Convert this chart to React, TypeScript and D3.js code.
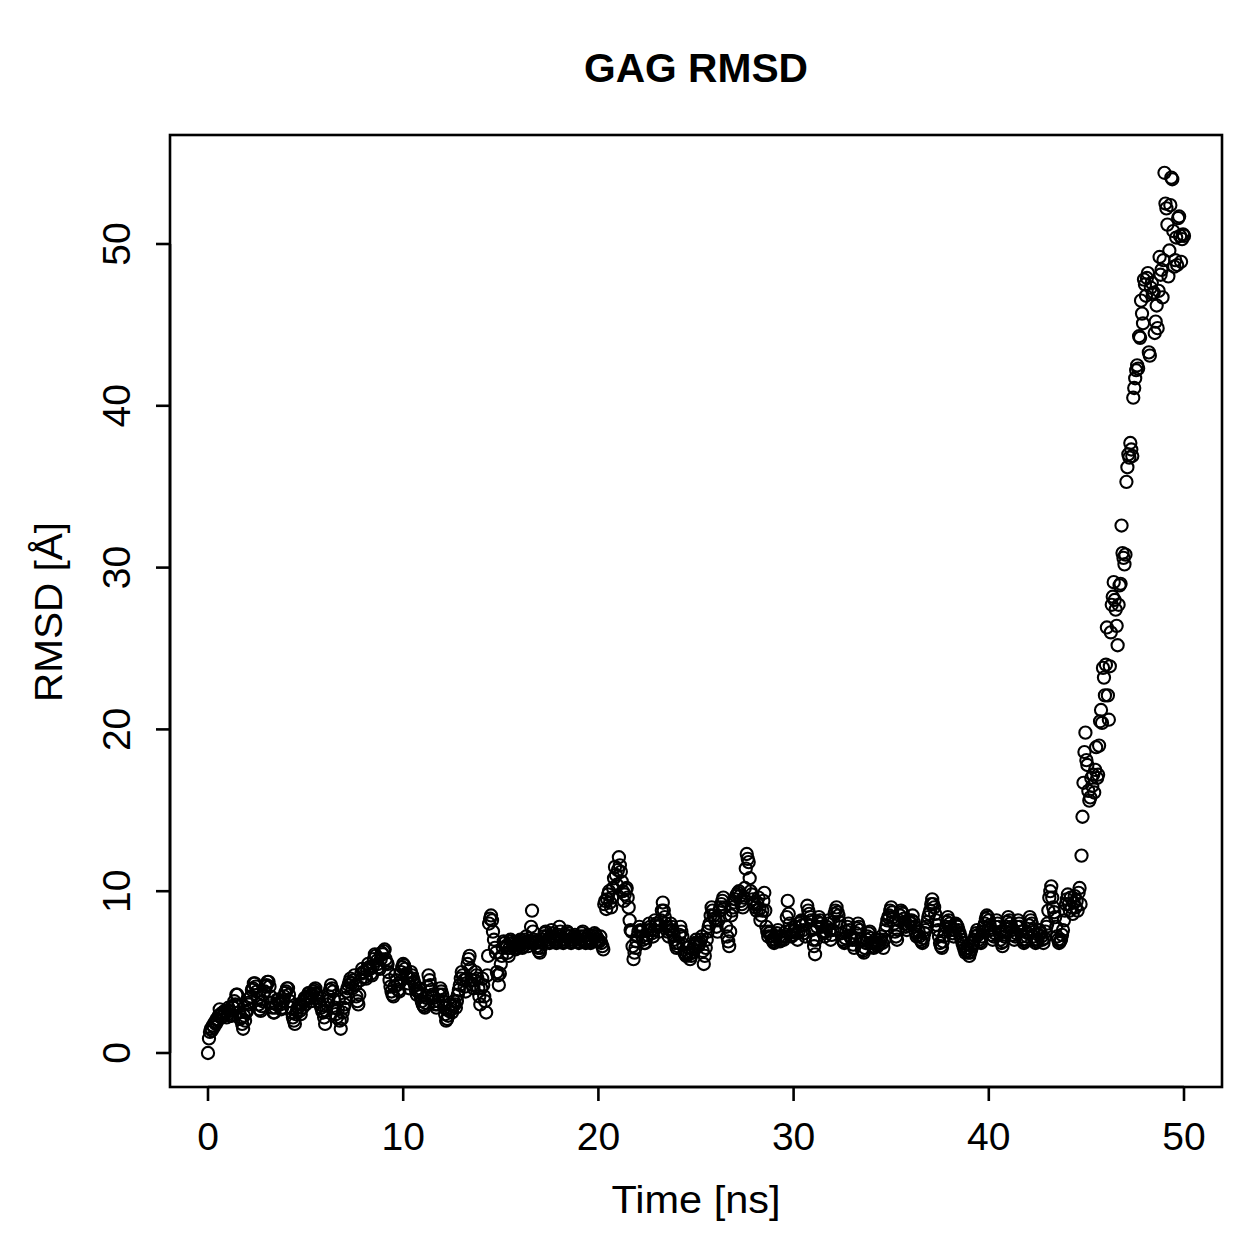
import React from 'react';
import * as d3 from 'd3';

const title = 'GAG RMSD';
const xLabel = 'Time [ns]';
const yLabel = 'RMSD [Å]';
const xTicks = [0, 10, 20, 30, 40, 50];
const yTicks = [0, 10, 20, 30, 40, 50];
const timeStep = 0.05; // ns between frames

const rmsd00to10 = [
  0, 0.9, 1.3, 1.5, 1.4, 1.7, 1.6, 1.9, 1.8, 2.1, 2.0, 2.3, 2.7, 2.4, 2.2, 2.5, 2.3, 2.6, 2.5, 2.2,
  2.4, 2.8, 2.6, 2.3, 2.3, 2.9, 2.8, 3.2, 3.0, 3.6, 3.6, 2.9, 2.5, 2.1, 2.2, 1.8, 1.5, 2.3, 2.0, 2.5,
  2.6, 3.1, 3.0, 3.4, 3.5, 3.9, 4.0, 4.3, 4.3, 4.1, 3.8, 3.4, 3.0, 2.7, 2.6, 2.9, 3.2, 3.6, 3.8, 4.1,
  4.2, 4.4, 4.4, 4.1, 3.5, 3.1, 2.8, 2.5, 2.5, 2.8, 3.0, 3.3, 3.3, 3.1, 3.0, 2.7, 2.8, 3.2, 3.5, 3.7,
  3.8, 4.0, 4.0, 3.6, 3.2, 2.8, 2.5, 2.2, 2.0, 1.8, 2.4, 2.6, 2.8, 3.0, 2.6, 2.4, 3.0, 2.8, 3.2, 3.4,
  3.0, 3.3, 3.5, 3.7, 3.7, 3.4, 3.2, 3.6, 3.8, 3.9, 4.0, 3.7, 3.6, 3.4, 3.2, 3.0, 2.8, 2.6, 2.5, 2.2,
  1.8, 2.6, 3.0, 3.2, 3.5, 3.9, 4.2, 4.0, 3.8, 3.3, 2.8, 2.4, 2.2, 2.7, 3.3, 2.0, 1.5, 2.1, 2.5, 2.8,
  3.0, 3.4, 3.8, 4.0, 4.2, 4.4, 4.6, 4.3, 4.0, 4.5, 4.8, 4.2, 3.5, 3.2, 3.0, 3.6, 4.5, 4.9, 5.2, 5.0,
  5.0, 4.7, 4.6, 5.1, 5.5, 5.3, 5.2, 4.9, 4.8, 5.4, 5.8, 6.1, 6.0, 5.7, 5.5, 5.3, 5.2, 5.8, 6.2, 6.1,
  6.3, 6.4, 5.8, 5.6, 5.5, 5.0, 4.5, 4.1, 3.8, 3.6, 3.5, 4.1, 4.8, 4.5, 4.2, 3.9, 3.8, 4.4, 5.0, 5.3,
];
const rmsd10to20 = [
  5.5, 5.4, 5.2, 4.9, 4.7, 4.3, 4.0, 4.6, 5.0, 4.8, 4.6, 4.4, 4.2, 3.9, 3.6, 3.8, 4.0, 3.7, 3.5, 3.2,
  3.0, 2.9, 2.8, 3.1, 3.4, 4.1, 4.8, 4.5, 4.2, 3.9, 3.6, 3.4, 3.2, 3.0, 2.8, 3.0, 3.2, 3.6, 4.0, 3.8,
  3.6, 3.2, 2.8, 2.4, 2.0, 2.1, 2.3, 2.6, 3.0, 2.7, 2.5, 2.9, 3.2, 3.0, 2.8, 3.2, 3.6, 3.9, 4.2, 4.6,
  5.0, 4.8, 4.5, 4.1, 3.8, 4.6, 5.5, 5.8, 6.0, 5.2, 4.5, 4.2, 4.0, 4.5, 5.0, 4.8, 4.6, 4.0, 3.5, 3.0,
  4.0, 4.6, 4.2, 3.5, 3.2, 2.5, 4.8, 6.0, 8.0, 8.3, 8.5, 8.2, 7.5, 7.0, 6.5, 6.2, 5.0, 4.8, 4.2, 4.9,
  5.5, 6.0, 6.5, 6.9, 6.8, 6.6, 6.5, 6.2, 6.0, 6.5, 7.0, 6.9, 6.8, 6.7, 6.6, 6.4, 6.5, 6.7, 6.8, 6.9,
  7.0, 6.7, 6.5, 6.6, 6.8, 7.0, 7.2, 6.9, 6.6, 6.8, 6.9, 7.8, 8.8, 7.5, 7.0, 6.9, 6.8, 6.6, 6.5, 6.3,
  6.2, 6.5, 6.8, 7.0, 7.2, 7.4, 7.5, 7.2, 7.0, 6.9, 6.8, 7.2, 7.6, 7.4, 7.2, 7.0, 6.9, 6.8, 7.0, 7.3,
  7.8, 7.5, 7.2, 7.0, 6.8, 6.9, 7.0, 7.3, 7.5, 7.4, 7.2, 7.0, 6.8, 6.9, 7.0, 7.2, 7.3, 7.1, 7.1, 6.9,
  6.8, 7.0, 7.2, 7.4, 7.5, 7.2, 7.0, 6.8, 6.9, 7.1, 7.3, 7.0, 6.8, 6.9, 7.0, 7.2, 7.4, 7.3, 7.2, 6.9,
];
const rmsd20to30 = [
  7.0, 6.9, 7.2, 6.8, 6.6, 6.4, 9.2, 9.4, 8.9, 9.5, 9.8, 10.0, 9.3, 9.0, 9.6, 10.2, 10.8, 11.5, 11.0, 10.4,
  11.3, 12.1, 11.6, 11.2, 10.6, 10.0, 9.4, 9.8, 10.1, 10.2, 9.6, 9.0, 8.2, 7.6, 7.5, 6.6, 5.8, 6.2, 6.5, 6.9,
  7.2, 7.5, 7.8, 7.6, 7.5, 7.2, 7.0, 6.8, 6.8, 7.1, 7.3, 7.6, 8.0, 7.8, 7.6, 7.4, 7.2, 7.6, 8.2, 8.0,
  8.0, 7.8, 7.5, 7.9, 8.2, 8.8, 9.3, 8.8, 8.4, 8.0, 7.8, 7.5, 7.2, 7.6, 8.0, 7.8, 7.6, 7.3, 7.0, 6.8,
  6.5, 6.6, 6.8, 7.3, 7.8, 7.5, 7.2, 6.7, 6.2, 6.1, 6.0, 6.2, 6.5, 6.1, 5.8, 6.0, 6.2, 6.4, 6.6, 6.8,
  7.0, 6.8, 6.6, 6.7, 6.8, 7.0, 7.2, 6.3, 5.5, 6.0, 6.5, 7.0, 7.5, 7.8, 8.0, 8.5, 9.0, 8.8, 8.5, 8.3,
  8.2, 7.8, 7.5, 8.2, 8.8, 9.0, 9.2, 9.4, 9.6, 9.0, 8.5, 7.8, 7.2, 6.9, 6.6, 7.5, 8.5, 8.8, 9.0, 9.3,
  9.5, 9.7, 9.8, 9.9, 10.0, 9.7, 9.4, 9.2, 9.0, 9.6, 10.2, 11.4, 12.3, 12.0, 11.8, 10.8, 10.0, 9.8, 9.5, 9.3,
  9.2, 9.0, 8.8, 9.2, 9.6, 8.9, 8.2, 8.5, 8.8, 9.4, 9.9, 8.8, 7.8, 7.5, 7.2, 7.4, 7.5, 7.2, 7.0, 6.9,
  6.8, 7.0, 7.2, 7.4, 7.6, 7.2, 6.9, 7.0, 7.2, 7.1, 7.0, 7.2, 7.5, 8.4, 9.4, 8.6, 8.0, 7.6, 7.2, 7.3,
];
const rmsd30to40 = [
  7.5, 7.6, 7.8, 7.4, 7.0, 7.5, 8.0, 8.1, 8.2, 7.9, 7.6, 7.4, 7.2, 8.0, 9.1, 8.8, 8.6, 8.4, 8.2, 7.6,
  7.0, 6.6, 6.1, 7.0, 7.8, 8.1, 8.4, 8.2, 8.0, 7.8, 7.5, 7.4, 7.2, 7.5, 7.8, 8.0, 8.2, 7.6, 7.0, 7.3,
  7.6, 8.1, 8.6, 8.8, 9.0, 8.7, 8.5, 8.1, 7.8, 7.4, 7.0, 6.9, 6.8, 7.1, 7.5, 7.8, 8.0, 7.6, 7.2, 7.1,
  7.0, 6.7, 6.5, 7.0, 7.4, 7.7, 8.0, 7.8, 7.6, 7.0, 6.4, 6.3, 6.2, 6.5, 6.8, 7.0, 7.2, 7.4, 7.5, 7.1,
  6.8, 6.6, 6.5, 6.8, 7.0, 6.8, 6.6, 6.7, 6.8, 7.0, 7.2, 6.8, 6.5, 7.0, 7.6, 7.9, 8.2, 8.4, 8.5, 8.8,
  9.0, 8.7, 8.4, 8.0, 7.5, 7.2, 7.0, 7.6, 8.2, 8.5, 8.8, 8.7, 8.6, 8.3, 8.0, 7.8, 7.6, 7.9, 8.2, 8.1,
  8.0, 8.2, 8.5, 8.1, 7.8, 7.5, 7.2, 7.3, 7.5, 7.2, 7.0, 6.9, 6.8, 7.1, 7.4, 7.6, 7.8, 8.1, 8.4, 8.6,
  8.8, 9.2, 9.5, 9.2, 9.0, 8.6, 8.2, 7.9, 7.6, 7.2, 6.8, 6.6, 6.5, 6.9, 7.2, 7.5, 7.8, 8.1, 8.4, 8.2,
  8.0, 7.8, 7.6, 7.4, 7.2, 7.6, 8.0, 7.9, 7.8, 7.6, 7.4, 7.2, 7.0, 6.8, 6.6, 6.4, 6.2, 6.3, 6.5, 6.2,
  6.0, 6.2, 6.4, 6.6, 6.8, 7.0, 7.2, 7.4, 7.6, 7.3, 7.0, 6.9, 6.8, 7.2, 7.5, 7.8, 8.0, 8.3, 8.5, 8.4,
];
const rmsd40to50 = [
  8.2, 7.9, 7.6, 7.3, 7.0, 7.2, 7.4, 7.8, 8.2, 8.0, 7.8, 7.4, 7.0, 6.8, 6.6, 6.9, 7.2, 7.5, 7.8, 8.1,
  8.4, 8.2, 8.0, 7.8, 7.6, 7.3, 7.0, 7.2, 7.4, 7.8, 8.2, 8.0, 7.8, 7.5, 7.2, 7.0, 6.8, 6.9, 7.0, 7.2,
  7.4, 7.9, 8.4, 8.2, 8.0, 7.6, 7.2, 7.0, 6.8, 6.9, 7.0, 7.3, 7.6, 7.4, 7.2, 7.0, 6.8, 7.1, 7.5, 7.8,
  8.0, 8.8, 9.6, 10.0, 10.3, 9.6, 9.0, 8.7, 8.4, 7.8, 7.2, 7.0, 6.8, 6.9, 7.0, 7.3, 7.6, 8.2, 8.8, 9.2,
  9.5, 9.8, 9.2, 8.8, 9.6, 9.0, 8.6, 9.3, 9.7, 9.0, 9.4, 8.8, 9.9, 10.2, 9.2, 12.2, 14.6, 16.7, 18.6, 19.8,
  18.1, 17.8, 16.2, 15.6, 15.8, 17.0, 16.5, 17.2, 16.1, 17.5, 18.9, 17.0, 17.2, 19.0, 20.5, 21.2, 20.4, 23.8, 23.2, 22.1,
  24.0, 26.3, 22.1, 20.6, 23.9, 26.0, 27.7, 28.2, 29.1, 28.0, 27.4, 26.4, 25.2, 27.7, 28.9, 29.0, 32.6, 30.9, 30.6, 30.2,
  30.8, 35.3, 36.2, 37.0, 36.8, 37.7, 37.3, 36.9, 40.5, 41.1, 41.7, 42.2, 42.5, 42.3, 44.3, 44.2, 46.5, 45.7, 45.1, 47.8,
  47.5, 46.8, 47.9, 48.2, 43.3, 43.1, 47.3, 47.6, 46.9, 47.0, 44.5, 45.2, 46.2, 44.8, 47.1, 49.2, 48.1, 48.4, 46.7, 49.0,
  54.4, 52.5, 52.2, 51.2, 48.0, 49.6, 52.4, 54.1, 54.0, 50.8, 48.6, 49.0, 50.4, 48.7, 51.6, 51.7, 50.5, 48.9, 50.3, 50.6,
  50.5,
];

const rmsd = [...rmsd00to10, ...rmsd10to20, ...rmsd20to30, ...rmsd30to40, ...rmsd40to50];

const FONT = '"Liberation Sans", Arial, Helvetica, sans-serif';

export default function App() {
  const x = d3.scaleLinear().domain([0, 50]).range([208, 1184]);
  const y = d3.scaleLinear().domain([0, 50]).range([1053, 244]);
  const box = { left: 170, right: 1222, top: 135, bottom: 1087 };
  const points = rmsd.map((v, i) => ({ t: i * timeStep, v }));
  const lw = 2.6;

  return (
    <svg
      width={1259}
      height={1259}
      style={{ position: 'absolute', left: 0, top: 0, background: '#fff' }}
      fontFamily={FONT}
    >
      <rect x={0} y={0} width={1259} height={1259} fill="#fff" />
      <text x={696} y={82} textAnchor="middle" fontWeight="bold" fontSize={40} textLength={224} lengthAdjust="spacingAndGlyphs">
        {title}
      </text>
      {points.map((p, i) => (
        <circle key={i} cx={x(p.t)} cy={y(p.v)} r={6.1} fill="none" stroke="#000" strokeWidth={2.1} />
      ))}
      <rect
        x={box.left}
        y={box.top}
        width={box.right - box.left}
        height={box.bottom - box.top}
        fill="none"
        stroke="#000"
        strokeWidth={lw}
      />
      {/* x axis */}
      <line x1={x(xTicks[0])} x2={x(xTicks[xTicks.length - 1])} y1={box.bottom} y2={box.bottom} stroke="#000" strokeWidth={lw} />
      {xTicks.map((t) => (
        <g key={t}>
          <line x1={x(t)} x2={x(t)} y1={box.bottom} y2={box.bottom + 14} stroke="#000" strokeWidth={lw} />
          <text x={x(t)} y={1150} textAnchor="middle" fontSize={39}>
            {t}
          </text>
        </g>
      ))}
      {/* y axis */}
      <line x1={box.left} x2={box.left} y1={y(yTicks[0])} y2={y(yTicks[yTicks.length - 1])} stroke="#000" strokeWidth={lw} />
      {yTicks.map((t) => (
        <g key={t}>
          <line x1={box.left - 14} x2={box.left} y1={y(t)} y2={y(t)} stroke="#000" strokeWidth={lw} />
          <text x={130} y={y(t)} textAnchor="middle" fontSize={39} transform={`rotate(-90, 130, ${y(t)})`}>
            {t}
          </text>
        </g>
      ))}
      <text x={696} y={1213} textAnchor="middle" fontSize={38} textLength={169} lengthAdjust="spacingAndGlyphs">
        {xLabel}
      </text>
      <text x={62} y={612} textAnchor="middle" fontSize={38} textLength={180} lengthAdjust="spacingAndGlyphs" transform={`rotate(-90, 62, 612)`}>
        {yLabel}
      </text>
    </svg>
  );
}
